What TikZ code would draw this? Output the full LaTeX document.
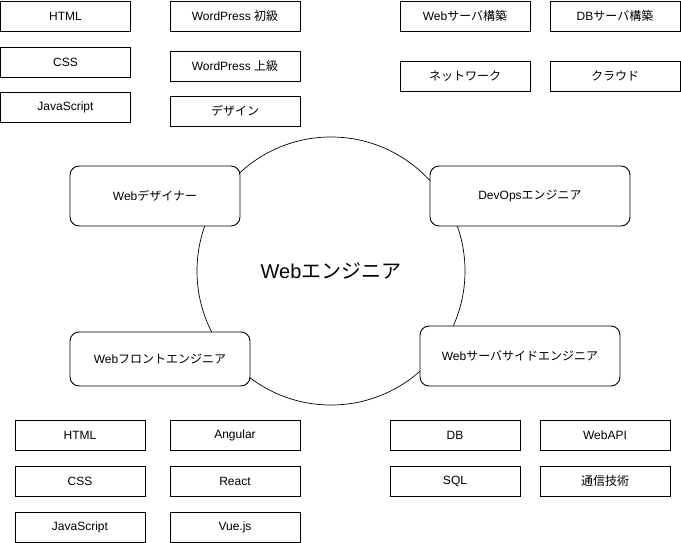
\documentclass[tikz,border=0pt]{standalone}
\usepackage{fontspec}
\setmainfont{Liberation Sans}
\newfontfamily\jp{Noto Sans CJK JP}
\usepackage{tikz}
\usetikzlibrary{positioning}

\begin{document}
\begin{tikzpicture}[x=1pt,y=-1pt,
    skill/.style={draw,line width=0.9pt,minimum width=130pt,minimum height=30pt,inner sep=0pt,font=\fontsize{12}{14}\selectfont},
    role/.style={draw,fill=white,line width=0.9pt,rounded corners=9pt,minimum height=60pt,inner sep=0pt,font=\fontsize{12}{14}\selectfont}]
  \useasboundingbox (0,0) rectangle (681,543);
  % centre
  \node[circle,draw,line width=0.7pt,minimum size=268pt,inner sep=0pt,font=\fontsize{20}{24}\selectfont] (eng) at (331,271) {Web{\jp エンジニア}};
  % roles
  \node[role,minimum width=170pt] (designer) at (155,196) {Web{\jp デザイナー}};
  \node[role,minimum width=200pt] (devops) at (530,196) {DevOps{\jp エンジニア}};
  \node[role,minimum width=180pt,minimum height=54pt] (front) at (160,359) {Web{\jp フロントエンジニア}};
  \node[role,minimum width=200pt] (server) at (520,356) {Web{\jp サーバサイドエンジニア}};
  % designer skills
  \node[skill] (d-html) at (65.5,16) {HTML};
  \node[skill] (d-css) at (65.5,62) {CSS};
  \node[skill] (d-js) at (65.5,107) {JavaScript};
  \node[skill] (d-wp1) at (235,16) {WordPress {\jp 初級}};
  \node[skill] (d-wp2) at (235,66) {WordPress {\jp 上級}};
  \node[skill] (d-design) at (235,111) {{\jp デザイン}};
  % devops skills
  \node[skill] (o-web) at (465,16) {Web{\jp サーバ構築}};
  \node[skill] (o-db) at (615,16) {DB{\jp サーバ構築}};
  \node[skill] (o-net) at (465,76) {{\jp ネットワーク}};
  \node[skill] (o-cloud) at (615,76) {{\jp クラウド}};
  % front skills
  \node[skill] (f-html) at (80,435) {HTML};
  \node[skill] (f-css) at (80,481) {CSS};
  \node[skill] (f-js) at (80,527) {JavaScript};
  \node[skill] (f-ng) at (235,435) {Angular};
  \node[skill] (f-react) at (235,481) {React};
  \node[skill] (f-vue) at (235,527) {Vue.js};
  % server skills
  \node[skill] (s-db) at (455,435) {DB};
  \node[skill] (s-api) at (605,435) {WebAPI};
  \node[skill] (s-sql) at (455,481) {SQL};
  \node[skill] (s-comm) at (605,481) {{\jp 通信技術}};
\end{tikzpicture}
\end{document}
